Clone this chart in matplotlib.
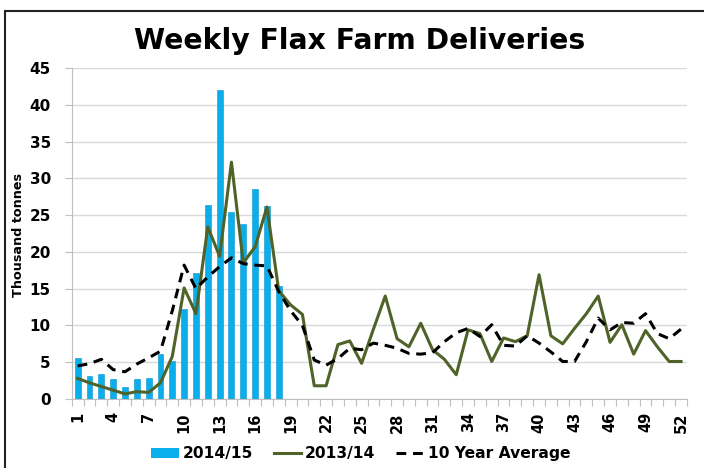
import matplotlib
matplotlib.use("Agg")
import matplotlib.pyplot as plt
from matplotlib.patches import Patch
from matplotlib.lines import Line2D

plt.rcParams['font.family'] = ['DejaVu Sans']

weeks = list(range(1, 53))
deliveries_2014_15 = [5.6, 3.1, 3.4, 2.7, 1.6, 2.7, 2.85, 6.15, 5.2, 12.3,
                      17.1, 26.4, 42.0, 25.4, 23.75, 28.5, 26.2, 15.4]
deliveries_2013_14 = [2.8, 2.2, 1.7, 1.2, 0.7, 1.0, 0.9, 2.2, 5.8, 15.1,
                      11.6, 23.4, 19.4, 32.2, 18.5, 20.7, 26.1, 14.7, 12.8, 11.5,
                      1.8, 1.8, 7.4, 7.9, 4.85, 9.5, 14.0, 8.2, 7.1, 10.3,
                      6.7, 5.4, 3.3, 9.4, 8.9, 5.1, 8.3, 7.8, 8.6, 16.9,
                      8.6, 7.5, 9.6, 11.6, 14.0, 7.7, 10.1, 6.1, 9.3, 7.1,
                      5.1, 5.1]
ten_year_avg = [4.5, 4.8, 5.4, 4.0, 3.7, 4.75, 5.6, 6.5, 12.0, 18.2,
                15.0, 16.6, 18.0, 19.2, 18.4, 18.2, 18.1, 14.6, 12.0, 10.0,
                5.3, 4.6, 5.5, 6.9, 6.7, 7.6, 7.3, 6.9, 6.2, 6.1,
                6.3, 7.8, 9.0, 9.6, 8.5, 10.1, 7.3, 7.2, 8.6, 7.6,
                6.4, 5.1, 5.1, 7.8, 11.0, 9.4, 10.4, 10.3, 11.6, 8.9,
                8.2, 9.5]
xtick_labels = [1, 4, 7, 10, 13, 16, 19, 22, 25, 28, 31, 34, 37, 40, 43, 46, 49, 52]
yticks = list(range(0, 46, 5))

fig = plt.figure(figsize=(7.06, 4.68), dpi=100)
ax = fig.add_axes([0.1016, 0.1474, 0.8714, 0.7073])

blue = '#0AAEEA'
green = '#4F6228'

ax.bar(weeks[:len(deliveries_2014_15)], deliveries_2014_15, width=0.5,
       color=blue, edgecolor='#0C92C8', linewidth=0.4, zorder=2)
ax.plot(weeks, deliveries_2013_14, color=green, linewidth=2.2, zorder=3)
ax.plot(weeks, ten_year_avg, color='black', linewidth=2.2,
        dashes=(3.2, 2.2), zorder=4)

ax.set_xlim(0.5, 52.5)
ax.set_ylim(0, 45)
ax.set_yticks(yticks)
ax.set_yticklabels([str(v) for v in yticks], fontsize=11, fontweight='bold')
ax.set_xticks(xtick_labels)
ax.set_xticklabels([str(v) for v in xtick_labels], rotation=90,
                   fontsize=10.5, fontweight='bold')
ax.set_xticks([w + 0.5 for w in range(0, 53)], minor=True)
ax.tick_params(axis='x', which='major', length=0, pad=9.5)
ax.tick_params(axis='x', which='minor', length=5, color='#BFBFBF', width=0.8)
ax.tick_params(axis='y', length=5, color='#BFBFBF', width=0.8, pad=10)

ax.grid(axis='y', color='#D9D9D9', linewidth=1.0, zorder=0)
ax.set_axisbelow(True)
for s in ['top', 'right']:
    ax.spines[s].set_visible(False)
ax.spines['left'].set_color('#BFBFBF')
ax.spines['bottom'].set_color('#BFBFBF')

fig.text(18.5 / 706, 0.498, 'Thousand tonnes', rotation=90, ha='center',
         va='center', fontsize=9.2, fontweight='bold')

fig.text(0.509, 0.912, 'Weekly Flax Farm Deliveries', ha='center', va='center',
         fontsize=20.3, fontweight='bold')

handles = [Patch(facecolor=blue, edgecolor='none'),
           Line2D([0], [0], color=green, linewidth=2.2),
           Line2D([0], [0], color='black', linewidth=2.2, dashes=(3.2, 2.2))]
leg = fig.legend(handles, ['2014/15', '2013/14', '10 Year Average'],
                 loc='center', bbox_to_anchor=(0.511, 0.03), ncol=3,
                 frameon=False, prop={'weight': 'bold', 'size': 11.2},
                 handlelength=1.75, handleheight=0.55, handletextpad=0.25,
                 columnspacing=1.35)

# frame: left and top edges only
bx = 4.5 / 706
by = 1 - 10.5 / 468
fig.add_artist(Line2D([bx, bx], [0, by], transform=fig.transFigure,
                      color='#222222', linewidth=1.5, solid_capstyle='projecting'))
fig.add_artist(Line2D([bx, 0.997], [by, by], transform=fig.transFigure,
                      color='#222222', linewidth=1.5, solid_capstyle='butt'))

fig.savefig('out.png', dpi=100)
